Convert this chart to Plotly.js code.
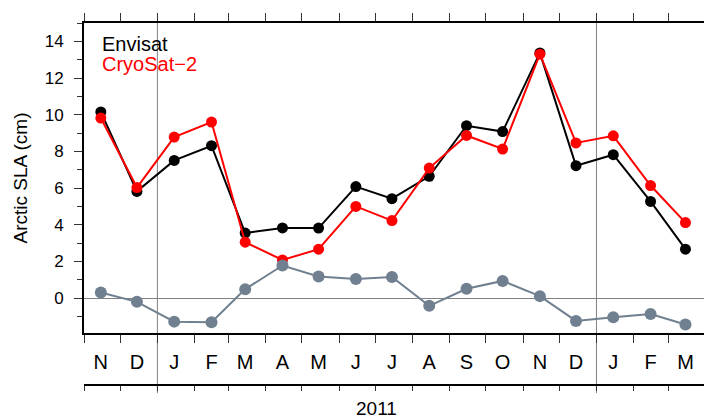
<!DOCTYPE html>
<html>
<head>
<meta charset="utf-8">
<script src="https://cdn.plot.ly/plotly-3.0.1.min.js"></script>
<style>html,body{margin:0;padding:0;background:#fff;}#chart{width:704px;height:418px;}</style>
</head>
<body>
<div id="chart"></div>
<script>
// Month mid-points (data positions) and month labels
const monthDates = ['2010-11-15','2010-12-15','2011-01-15','2011-02-15','2011-03-15','2011-04-15',
  '2011-05-15','2011-06-15','2011-07-15','2011-08-15','2011-09-15','2011-10-15','2011-11-15',
  '2011-12-15','2012-01-15','2012-02-15','2012-03-15'];
const monthLabels = ['N','D','J','F','M','A','M','J','J','A','S','O','N','D','J','F','M'];
// Month boundaries (tick marks) and year boundaries
const monthStarts = ['2010-11-01','2010-12-01','2011-01-01','2011-02-01','2011-03-01','2011-04-01',
  '2011-05-01','2011-06-01','2011-07-01','2011-08-01','2011-09-01','2011-10-01','2011-11-01',
  '2011-12-01','2012-01-01','2012-02-01','2012-03-01'];
const yearBounds = ['2011-01-01','2012-01-01'];
const yearLabels = ['2011'];
const yearMids = ['2011-07-02'];
// Series (cm)
const seriesNames = ['Envisat','CryoSat\u22122'];
const envisat = [10.15,5.82,7.51,8.31,3.55,3.83,3.82,6.08,5.42,6.64,9.40,9.08,13.37,7.22,7.82,5.27,2.67];
const cryosat = [9.82,6.03,8.78,9.60,3.05,2.08,2.67,5.00,4.23,7.09,8.87,8.13,13.30,8.46,8.85,6.14,4.12];
const difference = [0.31,-0.20,-1.28,-1.31,0.49,1.78,1.18,1.05,1.15,-0.42,0.51,0.94,0.11,-1.24,-1.04,-0.87,-1.44];

const FONT = '"Liberation Sans", Arial, Helvetica, sans-serif';
const xRange = ['2010-11-01', '2012-03-30 10:00'];
const black = '#000000', red = '#ff0000', slate = '#708090';

const traces = [
  {x: monthDates, y: envisat, name: seriesNames[0], type: 'scatter', mode: 'lines+markers',
   xaxis: 'x', yaxis: 'y', line: {color: black, width: 2}, marker: {color: black, size: 11}},
  {x: monthDates, y: cryosat, name: seriesNames[1], type: 'scatter', mode: 'lines+markers',
   xaxis: 'x2', yaxis: 'y', line: {color: red, width: 2}, marker: {color: red, size: 11}},
  {x: monthDates, y: difference, name: 'difference', type: 'scatter', mode: 'lines+markers',
   xaxis: 'x3', yaxis: 'y', line: {color: slate, width: 2}, marker: {color: slate, size: 12}}
];

const H = 418, T = 23, B = 33;
const paperH = H - T - B;
const yDomLow = (385 - 333) / paperH;

const shapes = yearBounds.map(d => ({
  type: 'line', xref: 'x', yref: 'paper', x0: d, x1: d, y0: -8 / paperH, y1: 1,
  line: {color: '#808080', width: 1}, layer: 'below'
}));

const annotations = [
  {text: seriesNames[0], xref: 'paper', yref: 'paper', x: 16 / 620, y: (385 - 44) / paperH,
   xanchor: 'left', yanchor: 'middle', showarrow: false, font: {family: FONT, size: 20, color: black}},
  {text: seriesNames[1], xref: 'paper', yref: 'paper', x: 16 / 620, y: (385 - 63.5) / paperH,
   xanchor: 'left', yanchor: 'middle', showarrow: false, font: {family: FONT, size: 20, color: red}}
].concat(yearLabels.map((t, i) => ({
  text: t, xref: 'x', yref: 'paper', x: yearMids[i], y: -11 / paperH, xanchor: 'center', yanchor: 'top',
  showarrow: false, font: {family: FONT, size: 19, color: black}
})));

const layout = {
  width: 704, height: H,
  margin: {l: 84, r: 0, t: T, b: B, pad: 0},
  paper_bgcolor: '#ffffff', plot_bgcolor: '#ffffff',
  showlegend: false,
  font: {family: FONT, color: black},
  xaxis: {
    type: 'date', range: xRange, anchor: 'y',
    tickmode: 'array', tickvals: monthStarts, ticks: 'outside', ticklen: 8, tickwidth: 1, tickcolor: '#333',
    showticklabels: false, showline: true, linewidth: 2, linecolor: black, mirror: 'ticks',
    showgrid: false, zeroline: false
  },
  xaxis2: {
    type: 'date', range: xRange, overlaying: 'x', anchor: 'y', side: 'bottom',
    tickmode: 'array', tickvals: monthDates, ticktext: monthLabels,
    ticks: 'outside', ticklen: 11, tickcolor: 'rgba(0,0,0,0)',
    tickfont: {family: FONT, size: 20, color: black},
    showline: false, showgrid: false, zeroline: false
  },
  xaxis3: {
    type: 'date', range: xRange, overlaying: 'x', anchor: 'free', position: 0, side: 'bottom',
    tickmode: 'array', tickvals: monthStarts, ticks: 'outside', ticklen: 5, tickwidth: 1, tickcolor: '#333',
    showticklabels: false, showline: true, linewidth: 2, linecolor: black,
    showgrid: false, zeroline: false
  },
  yaxis: {
    domain: [yDomLow, 1], range: [-1.9, 15],
    tickmode: 'linear', tick0: 0, dtick: 2,
    ticks: 'outside', ticklen: 8, tickwidth: 1, tickcolor: '#333',
    minor: {ticks: 'outside', dtick: 1, ticklen: 5, tickwidth: 1, tickcolor: '#333', showgrid: false},
    tickfont: {family: FONT, size: 17, color: black}, ticklabelstandoff: 7,
    showline: true, linewidth: 2, linecolor: black,
    showgrid: false, zeroline: true, zerolinecolor: '#808080', zerolinewidth: 1,
    title: {text: 'Arctic SLA (cm)', font: {family: FONT, size: 19, color: black}, standoff: 12}
  },
  shapes: shapes,
  annotations: annotations
};

Plotly.newPlot('chart', traces, layout, {staticPlot: true, displayModeBar: false});
</script>
</body>
</html>
